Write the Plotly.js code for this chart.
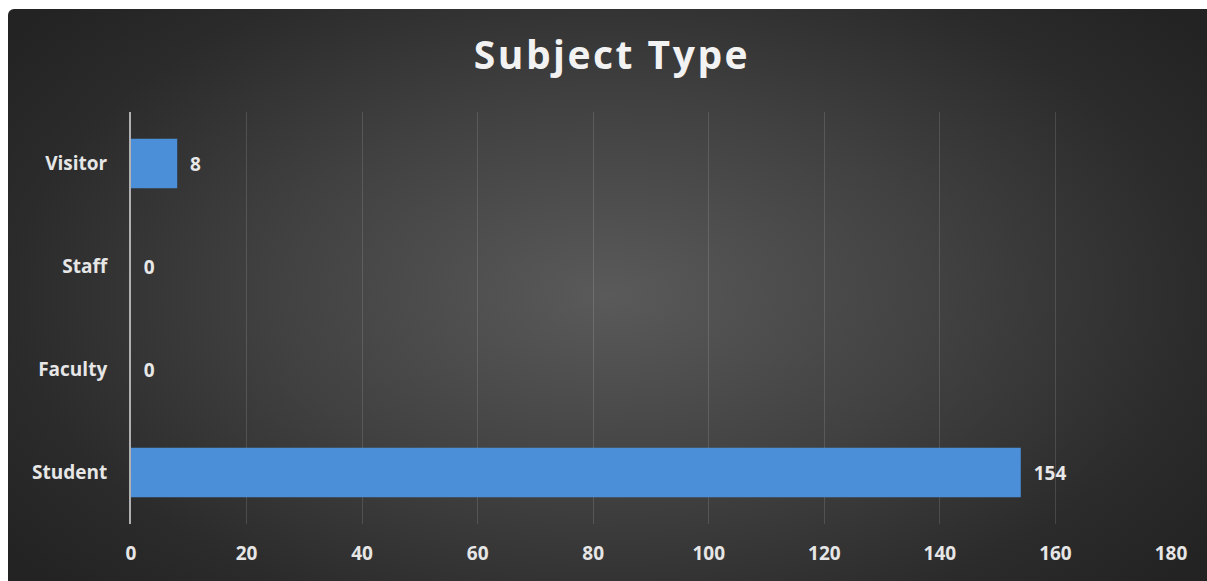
<!DOCTYPE html>
<html>
<head>
<meta charset="utf-8">
<script src="https://cdn.plot.ly/plotly-3.0.1.min.js"></script>
<style>
  html, body { margin: 0; padding: 0; background: #ffffff; }
  #wrap { position: relative; width: 1207px; height: 581px; overflow: hidden; }
  #bg { position: absolute; left: 8px; top: 9px; width: 1199px; height: 572px;
        border-top-left-radius: 6px;
        background: radial-gradient(ellipse 62% 75% at 50% 50%, #5a5a5a 0%, #414141 45%, #2b2b2b 80%, #232323 100%); }
  #chart { position: absolute; left: 0; top: 0; width: 1207px; height: 581px; }
  #chart .gtitle { letter-spacing: 2.5px; }
</style>
</head>
<body>
<div id="wrap">
  <div id="bg"></div>
  <div id="chart"></div>
</div>
<script>
const categories = ["Student", "Faculty", "Staff", "Visitor"];
const counts = [154, 0, 0, 8];
const xTicks = [0, 20, 40, 60, 80, 100, 120, 140, 160, 180];
const chartTitle = "Subject Type";

const fontFam = "'Open Sans', 'DejaVu Sans', sans-serif";

const trace = {
  type: "bar",
  orientation: "h",
  y: categories,
  x: counts,
  width: 0.48,
  marker: { color: "#4a8fd8", line: { width: 0 } },
  texttemplate: "  %{x}",
  textposition: "outside",
  cliponaxis: false,
  textfont: { family: fontFam, size: 19, color: "#e8e8e8", weight: 700 },
  hoverinfo: "none"
};

const layout = {
  width: 1207,
  height: 581,
  paper_bgcolor: "rgba(0,0,0,0)",
  plot_bgcolor: "rgba(0,0,0,0)",
  margin: { l: 131, r: 36, t: 112, b: 57 },
  showlegend: false,
  title: {
    text: chartTitle,
    x: 0.507,
    xanchor: "center",
    y: 0.905,
    yanchor: "middle",
    font: { family: fontFam, size: 39, color: "#f2f2f2", weight: 700 }
  },
  xaxis: {
    range: [0, 180],
    tickvals: xTicks,
    ticktext: xTicks.map(String),
    showgrid: true,
    gridcolor: "rgba(255,255,255,0.13)",
    gridwidth: 1,
    zeroline: false,
    showline: false,
    ticks: "outside",
    ticklen: 12,
    tickcolor: "rgba(0,0,0,0)",
    tickfont: { family: fontFam, size: 19, color: "#e6e6e6", weight: 700 },
    fixedrange: true
  },
  yaxis: {
    categoryorder: "array",
    categoryarray: categories,
    showgrid: false,
    zeroline: false,
    showline: true,
    linecolor: "#b0b0b0",
    linewidth: 2,
    ticks: "outside",
    ticklen: 18,
    tickcolor: "rgba(0,0,0,0)",
    tickfont: { family: fontFam, size: 19, color: "#e6e6e6", weight: 700 },
    fixedrange: true
  }
};

Plotly.newPlot("chart", [trace], layout, { displayModeBar: false, staticPlot: true });
</script>
</body>
</html>
